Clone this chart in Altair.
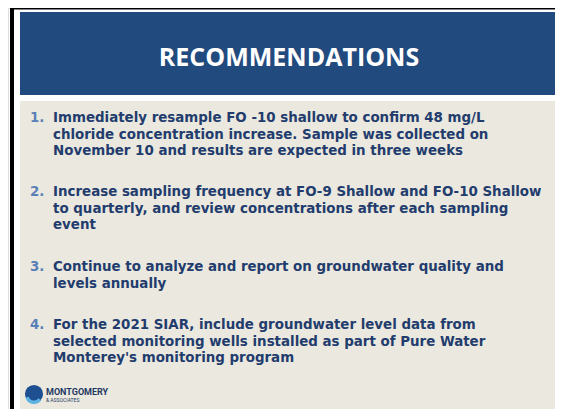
import altair as alt
import pandas as pd

# ---- content ----
title_text = ["RECOMMENDATIONS"]
item_numbers = ["1.", "2.", "3.", "4."]
item_lines = [
    ["Immediately resample FO -10 shallow to confirm 48 mg/L",
     "chloride concentration increase. Sample was collected on",
     "November 10 and results are expected in three weeks"],
    ["Increase sampling frequency at FO-9 Shallow and FO-10 Shallow",
     "to quarterly, and review concentrations after each sampling",
     "event"],
    ["Continue to analyze and report on groundwater quality and",
     "levels annually"],
    ["For the 2021 SIAR, include groundwater level data from",
     "selected monitoring wells installed as part of Pure Water",
     "Monterey's monitoring program"],
]
logo_name = ["MONTGOMERY"]
logo_sub = ["& ASSOCIATES"]

# ---- layout (page pixel coordinates) ----
W, H = 547, 401
X0, Y0 = 8, 8
item_baselines = [122, 196, 271, 329]
line_step = 16.5
num_x, text_x = 30, 53

NAVY = "#223c6d"
NUMBLUE = "#5a80b8"
PANEL = "#214a7e"
BEIGE = "#ebe8df"

xs = alt.Scale(domain=[X0, X0 + W])
ys = alt.Scale(domain=[Y0 + H, Y0])

rects = pd.DataFrame([
    dict(x=10, x2=14, y=2, y2=411, c="#000000"),
    dict(x=10, x2=570, y=8, y2=9.5, c="#000000"),
    dict(x=20, x2=570, y=12, y2=95, c=PANEL),
    dict(x=20, x2=570, y=101, y2=410, c=BEIGE),
])

base = alt.Chart(rects).mark_rect().encode(
    x=alt.X("x:Q", scale=xs, axis=None),
    x2="x2:Q",
    y=alt.Y("y:Q", scale=ys, axis=None),
    y2="y2:Q",
    color=alt.Color("c:N", scale=None),
)

title_df = pd.DataFrame({"t": title_text, "x": [289], "y": [58]})
title = alt.Chart(title_df).mark_text(
    font="Open Sans", fontWeight="bold", fontSize=25, color="white",
    align="center", baseline="middle",
).encode(x=alt.X("x:Q", scale=xs), y=alt.Y("y:Q", scale=ys), text="t:N")

num_df = pd.DataFrame({"t": item_numbers, "x": [num_x] * 4, "y": item_baselines})
nums = alt.Chart(num_df).mark_text(
    font="DejaVu Sans", fontWeight="bold", fontSize=13.4, color=NUMBLUE,
    align="left", baseline="alphabetic",
).encode(x=alt.X("x:Q", scale=xs), y=alt.Y("y:Q", scale=ys), text="t:N")

rows = []
for i, lines in enumerate(item_lines):
    for j, ln in enumerate(lines):
        rows.append({"t": ln, "x": text_x, "y": item_baselines[i] + j * line_step})
body_df = pd.DataFrame(rows)
body = alt.Chart(body_df).mark_text(
    font="DejaVu Sans", fontWeight="bold", fontSize=13.4, color=NAVY,
    align="left", baseline="alphabetic",
).encode(x=alt.X("x:Q", scale=xs), y=alt.Y("y:Q", scale=ys), text="t:N")

# logo
logo_circ = alt.Chart(pd.DataFrame({"x": [34], "y": [394]})).mark_circle(
    size=330, color="#1d4f91", opacity=1
).encode(x=alt.X("x:Q", scale=xs), y=alt.Y("y:Q", scale=ys))
logo_swoosh = alt.Chart(pd.DataFrame({"x": [34], "y": [395]})).mark_arc(
    radius=9, radius2=5.5, theta=2.2, theta2=4.4, color="#5fb3e3"
).encode(x=alt.X("x:Q", scale=xs), y=alt.Y("y:Q", scale=ys))
logo_t1 = alt.Chart(pd.DataFrame({"t": logo_name, "x": [46], "y": [395]})).mark_text(
    font="Roboto", fontWeight="bold", fontSize=9, color="#1f3864",
    align="left", baseline="alphabetic",
).encode(x=alt.X("x:Q", scale=xs), y=alt.Y("y:Q", scale=ys), text="t:N")
logo_t2 = alt.Chart(pd.DataFrame({"t": logo_sub, "x": [46], "y": [402]})).mark_text(
    font="Roboto", fontSize=5, color="#1f3864",
    align="left", baseline="alphabetic",
).encode(x=alt.X("x:Q", scale=xs), y=alt.Y("y:Q", scale=ys), text="t:N")

chart = alt.layer(base, title, nums, body, logo_circ, logo_swoosh, logo_t1, logo_t2).properties(
    width=W, height=H, padding=0,
    autosize=alt.AutoSizeParams(type="none"),
).configure_view(stroke=None).configure(background="white")

chart.save("out.html", embed_options={"renderer": "svg", "actions": False})
